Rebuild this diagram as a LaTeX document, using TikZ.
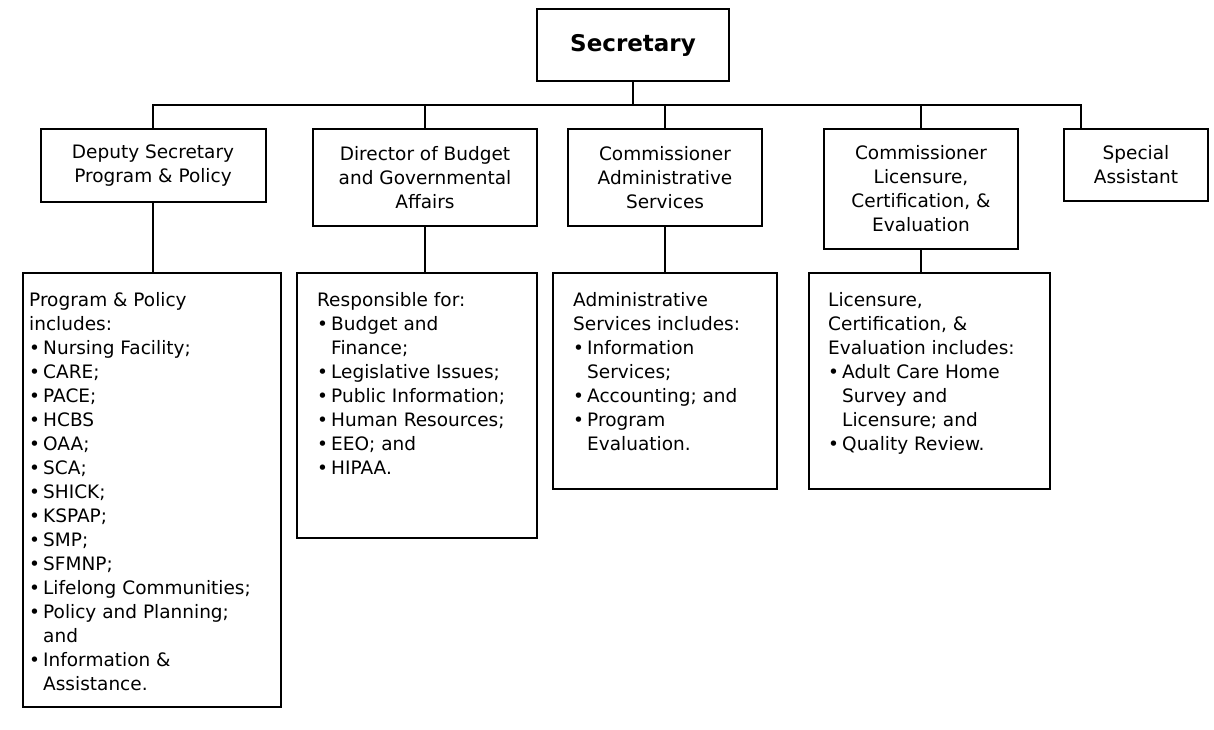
\documentclass[tikz,border=0pt]{standalone}
\usepackage{fontspec}
\setmainfont{DejaVu Sans}
% bullet and hanging indent for list lines
\newcommand\bul{\makebox[14pt][l]{\textbullet}}
\newcommand\cont{\hspace*{14pt}}
\begin{document}
\begin{tikzpicture}[x=1pt,y=-1pt,
  box/.style={draw, line width=2pt, rectangle, inner sep=0pt},
  head/.style={box, align=center, font=\fontsize{18.5}{24}\selectfont},
  listtext/.style={anchor=north west, inner sep=0pt, align=left,
    font=\fontsize{18.5}{24}\selectfont},
  link/.style={draw, line width=2pt}]
\useasboundingbox (0,0) rectangle (1214,730);

% top
\node[box, minimum width=192pt, minimum height=72pt,
  font=\bfseries\fontsize{23}{27}\selectfont] (sec) at (633,45) {\raisebox{3pt}{Secretary}};

% second level
\node[head, minimum width=225pt, minimum height=73pt] (dep) at (153,165.5)
  {Deputy Secretary\\Program \& Policy};
\node[head, minimum width=224pt, minimum height=97pt] (dir) at (425,177.5)
  {Director of Budget\\and Governmental\\Affairs};
\node[head, minimum width=194pt, minimum height=97pt] (adm) at (665,177.5)
  {Commissioner\\Administrative\\Services};
\node[head, minimum width=194pt, minimum height=120pt] (lic) at (921,189)
  {Commissioner\\Licensure,\\Certification, \&\\Evaluation};
\node[head, minimum width=144pt, minimum height=72pt] (spc) at (1136,165)
  {Special\\Assistant};

% third level: responsibility boxes
\node[box, minimum width=258pt, minimum height=434pt] (pp) at (152,490) {};
\node[listtext] (pptxt) at ([xshift=7pt,yshift=-20pt]pp.north west)
  {Program \& Policy\\
   includes:\\
   \bul Nursing Facility;\\
   \bul CARE;\\
   \bul PACE;\\
   \bul HCBS\\
   \bul OAA;\\
   \bul SCA;\\
   \bul SHICK;\\
   \bul KSPAP;\\
   \bul SMP;\\
   \bul SFMNP;\\
   \bul Lifelong Communities;\\
   \bul Policy and Planning;\\
   \cont and\\
   \bul Information \&\\
   \cont Assistance.};

\node[box, minimum width=240pt, minimum height=265pt] (bud) at (417,405.5) {};
\node[listtext] (budtxt) at ([xshift=21pt,yshift=-20pt]bud.north west)
  {Responsible for:\\
   \bul Budget and\\
   \cont Finance;\\
   \bul Legislative Issues;\\
   \bul Public Information;\\
   \bul Human Resources;\\
   \bul EEO; and\\
   \bul HIPAA.};

\node[box, minimum width=224pt, minimum height=216pt] (ads) at (665,381) {};
\node[listtext] (adstxt) at ([xshift=21pt,yshift=-20pt]ads.north west)
  {Administrative\\
   Services includes:\\
   \bul Information\\
   \cont Services;\\
   \bul Accounting; and\\
   \bul Program\\
   \cont Evaluation.};

\node[box, minimum width=241pt, minimum height=216pt] (lce) at (929.5,381) {};
\node[listtext] (lcetxt) at ([xshift=20pt,yshift=-20pt]lce.north west)
  {Licensure,\\
   Certification, \&\\
   Evaluation includes:\\
   \bul Adult Care Home\\
   \cont Survey and\\
   \cont Licensure; and\\
   \bul Quality Review.};

% connectors
\coordinate (bus) at (633,105);
\coordinate (spcTop) at (1081,129);
\draw[link] (sec.south) -- (bus);
\draw[link] (dep.north) |- (bus) -| (spcTop);
\draw[link] (dir.north) -- (dir.north |- bus);
\draw[link] (adm.north) -- (adm.north |- bus);
\draw[link] (lic.north) -- (lic.north |- bus);
\draw[link] (dep.south) -- (dep.south |- pp.north);
\draw[link] (dir.south) -- (dir.south |- bud.north);
\draw[link] (adm.south) -- (adm.south |- ads.north);
\draw[link] (lic.south) -- (lic.south |- lce.north);
\end{tikzpicture}
\end{document}
